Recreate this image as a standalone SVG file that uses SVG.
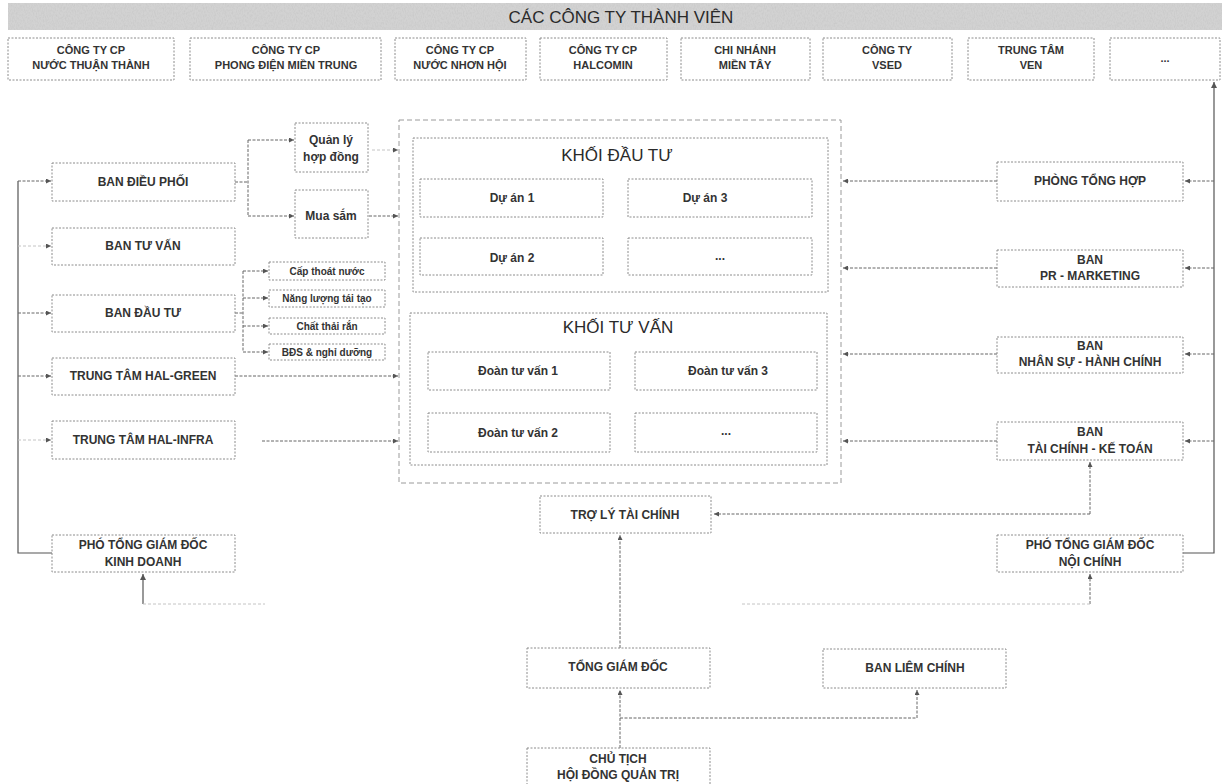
<svg xmlns="http://www.w3.org/2000/svg" width="1230" height="784" viewBox="0 0 1230 784">
<defs>
<style>
.box{fill:#fff;stroke:#8c8c8c;stroke-width:1;stroke-dasharray:2 1.5}
.frame{fill:none;stroke:#9a9a9a;stroke-width:1;stroke-dasharray:5 3}
.t{font-family:"Liberation Sans",Arial,sans-serif;font-weight:700;fill:#333;text-anchor:middle;dominant-baseline:central}
.m{font-size:11px}
.l{font-size:12px}
.s{font-size:10px}
.h{font-family:"Liberation Sans",Arial,sans-serif;font-weight:400;fill:#2a2a2a;text-anchor:middle;dominant-baseline:central;font-size:17px}
.c{fill:none;stroke:#666;stroke-width:1;stroke-dasharray:3 1.5}
.cf{fill:none;stroke:#c4c4c4;stroke-width:1;stroke-dasharray:3 2}
.cs{fill:none;stroke:#555;stroke-width:1.2}
</style>
<marker id="ah" viewBox="0 0 6 6" refX="6" refY="3" markerWidth="5" markerHeight="5" orient="auto"><path d="M0,0 L6,3 L0,6 z" fill="#555"/></marker>
<filter id="grain" x="0" y="0" width="1" height="1"><feTurbulence type="fractalNoise" baseFrequency="0.9 0.4" numOctaves="3" seed="7"/><feColorMatrix type="matrix" values="0 0 0 0 0.55 0 0 0 0 0.55 0 0 0 0 0.55 1.2 0 0 0 -0.45"/></filter>
</defs>
<rect width="1230" height="784" fill="#fff"/>

<g id="banner">
<rect x="8" y="3" width="1214" height="27" fill="#d2d2d2"/>
<rect x="8" y="3" width="1214" height="27" fill="#000" filter="url(#grain)"/>
<text class="h" x="621" y="17">CÁC CÔNG TY THÀNH VIÊN</text>
</g>

<g id="members">
<g id="m1"><rect class="box" x="8" y="38" width="166" height="42"/><text class="t m" x="91" y="50">CÔNG TY CP</text><text class="t m" x="91" y="65">NƯỚC THUẬN THÀNH</text></g>
<g id="m2"><rect class="box" x="190" y="38" width="191" height="42"/><text class="t m" x="286" y="50">CÔNG TY CP</text><text class="t m" x="286" y="65">PHONG ĐIỆN MIỀN TRUNG</text></g>
<g id="m3"><rect class="box" x="395" y="38" width="131" height="42"/><text class="t m" x="460" y="50">CÔNG TY CP</text><text class="t m" x="460" y="65">NƯỚC NHƠN HỘI</text></g>
<g id="m4"><rect class="box" x="540" y="38" width="127" height="42"/><text class="t m" x="603" y="50">CÔNG TY CP</text><text class="t m" x="603" y="65">HALCOMIN</text></g>
<g id="m5"><rect class="box" x="681" y="38" width="129" height="42"/><text class="t m" x="745" y="50">CHI NHÁNH</text><text class="t m" x="745" y="65">MIỀN TÂY</text></g>
<g id="m6"><rect class="box" x="823" y="38" width="129" height="42"/><text class="t m" x="887" y="50">CÔNG TY</text><text class="t m" x="887" y="65">VSED</text></g>
<g id="m7"><rect class="box" x="968" y="38" width="126" height="42"/><text class="t m" x="1031" y="50">TRUNG TÂM</text><text class="t m" x="1031" y="65">VEN</text></g>
<g id="m8"><rect class="box" x="1110" y="38" width="110" height="42"/><text class="t m" x="1165" y="58">...</text></g>
</g>

<g id="connectors">
<path class="cs" d="M52,553 H18 V181"/>
<path class="c" d="M18,181 H51" marker-end="url(#ah)"/>
<path class="cf" d="M18,246 H51" marker-end="url(#ah)"/>
<path class="c" d="M18,313 H51" marker-end="url(#ah)"/>
<path class="c" d="M18,376 H51" marker-end="url(#ah)"/>
<path class="cf" d="M18,440 H51" marker-end="url(#ah)"/>
<path class="c" d="M235,182 H248 M248,140 V216"/>
<path class="c" d="M248,140 H294" marker-end="url(#ah)"/>
<path class="c" d="M248,216 H294" marker-end="url(#ah)"/>
<path class="cf" d="M372,150 H398" marker-end="url(#ah)"/>
<path class="c" d="M369,216 H398" marker-end="url(#ah)"/>
<path class="c" d="M235,313 H243 M243,271 V352"/>
<path class="c" d="M243,271 H268" marker-end="url(#ah)"/>
<path class="c" d="M243,298 H268" marker-end="url(#ah)"/>
<path class="c" d="M243,326 H268" marker-end="url(#ah)"/>
<path class="c" d="M243,352 H268" marker-end="url(#ah)"/>
<path class="c" d="M235,376 H398" marker-end="url(#ah)"/>
<path class="c" d="M262,441 H398" marker-end="url(#ah)"/>
<path class="c" d="M997,181 H843" marker-end="url(#ah)"/>
<path class="c" d="M997,268 H843" marker-end="url(#ah)"/>
<path class="c" d="M997,354 H843" marker-end="url(#ah)"/>
<path class="c" d="M997,441 H843" marker-end="url(#ah)"/>
<path class="cs" d="M1183,553 H1214 V82" marker-end="url(#ah)"/>
<path class="c" d="M1214,181 H1185" marker-end="url(#ah)"/>
<path class="c" d="M1214,268 H1185" marker-end="url(#ah)"/>
<path class="c" d="M1214,354 H1185" marker-end="url(#ah)"/>
<path class="c" d="M1214,441 H1185" marker-end="url(#ah)"/>
<path class="c" d="M1090,514 V462" marker-end="url(#ah)"/>
<path class="c" d="M1090,514 H714" marker-end="url(#ah)"/>
<path class="c" d="M620,648 V535" marker-end="url(#ah)"/>
<path class="cs" d="M143,604 V574" marker-end="url(#ah)"/>
<path class="cf" d="M143,604 H265"/>
<path class="c" d="M1090,604 V574" marker-end="url(#ah)"/>
<path class="cf" d="M1090,604 H740"/>
<path class="c" d="M620,748 V690" marker-end="url(#ah)"/>
<path class="c" d="M620,718 H917 V690" marker-end="url(#ah)"/>
</g>

<g id="left">
<g id="ban-dieu-phoi"><rect class="box" x="52" y="163" width="183" height="38"/><text class="t l" x="143" y="182">BAN ĐIỀU PHỐI</text></g>
<g id="ban-tu-van"><rect class="box" x="52" y="228" width="183" height="37"/><text class="t l" x="143" y="246">BAN TƯ VẤN</text></g>
<g id="ban-dau-tu"><rect class="box" x="52" y="295" width="183" height="37"/><text class="t l" x="143" y="313">BAN ĐẦU TƯ</text></g>
<g id="hal-green"><rect class="box" x="52" y="358" width="183" height="37"/><text class="t l" x="143" y="376">TRUNG TÂM HAL-GREEN</text></g>
<g id="hal-infra"><rect class="box" x="52" y="421" width="183" height="38"/><text class="t l" x="143" y="440">TRUNG TÂM HAL-INFRA</text></g>
<g id="pho-kd"><rect class="box" x="52" y="535" width="183" height="37"/><text class="t l" x="143" y="545">PHÓ TỔNG GIÁM ĐỐC</text><text class="t l" x="143" y="562">KINH DOANH</text></g>
</g>

<g id="sub">
<g id="quan-ly"><rect class="box" x="295" y="123" width="73" height="49"/><text class="t l" x="331" y="140" font-weight="400">Quản lý</text><text class="t l" x="331" y="157">hợp đồng</text></g>
<g id="mua-sam"><rect class="box" x="295" y="190" width="73" height="48"/><text class="t l" x="331" y="216">Mua sắm</text></g>
<g id="cap-thoat-nuoc"><rect class="box" x="269" y="262" width="116" height="18"/><text class="t s" x="327" y="271">Cấp thoát nước</text></g>
<g id="nang-luong"><rect class="box" x="269" y="290" width="116" height="17"/><text class="t s" x="327" y="298">Năng lượng tái tạo</text></g>
<g id="chat-thai"><rect class="box" x="269" y="318" width="116" height="16"/><text class="t s" x="327" y="326">Chất thải rắn</text></g>
<g id="bds"><rect class="box" x="269" y="344" width="116" height="16"/><text class="t s" x="327" y="352">BĐS &amp; nghỉ dưỡng</text></g>
</g>

<g id="center">
<rect class="frame" x="399" y="120" width="442" height="363"/>
<g id="khoi-dau-tu"><rect class="box" x="413" y="138" width="415" height="154"/><text class="h" x="617" y="155">KHỐI ĐẦU TƯ</text>
<g id="du-an-1"><rect class="box" x="420" y="179" width="183" height="38"/><text class="t l" x="512" y="198">Dự án 1</text></g>
<g id="du-an-3"><rect class="box" x="628" y="179" width="184" height="38"/><text class="t l" x="705" y="198">Dự án 3</text></g>
<g id="du-an-2"><rect class="box" x="420" y="238" width="183" height="37"/><text class="t l" x="512" y="258">Dự án 2</text></g>
<g id="du-an-x"><rect class="box" x="628" y="238" width="184" height="37"/><text class="t l" x="720" y="256">...</text></g>
</g>
<g id="khoi-tu-van"><rect class="box" x="410" y="313" width="417" height="152"/><text class="h" x="618" y="327">KHỐI TƯ VẤN</text>
<g id="doan-1"><rect class="box" x="428" y="352" width="182" height="38"/><text class="t l" x="518" y="371">Đoàn tư vấn 1</text></g>
<g id="doan-3"><rect class="box" x="635" y="352" width="182" height="38"/><text class="t l" x="728" y="371">Đoàn tư vấn 3</text></g>
<g id="doan-2"><rect class="box" x="428" y="413" width="182" height="39"/><text class="t l" x="518" y="433">Đoàn tư vấn 2</text></g>
<g id="doan-x"><rect class="box" x="635" y="413" width="182" height="39"/><text class="t l" x="726" y="431">...</text></g>
</g>
</g>

<g id="right">
<g id="phong-tong-hop"><rect class="box" x="997" y="162" width="186" height="39"/><text class="t l" x="1090" y="181">PHÒNG TỔNG HỢP</text></g>
<g id="pr-marketing"><rect class="box" x="997" y="250" width="186" height="37"/><text class="t l" x="1090" y="260">BAN</text><text class="t l" x="1090" y="276">PR - MARKETING</text></g>
<g id="nhan-su"><rect class="box" x="997" y="337" width="186" height="36"/><text class="t l" x="1090" y="346">BAN</text><text class="t l" x="1090" y="362">NHÂN SỰ - HÀNH CHÍNH</text></g>
<g id="tai-chinh"><rect class="box" x="997" y="422" width="186" height="38"/><text class="t l" x="1090" y="432">BAN</text><text class="t l" x="1090" y="449">TÀI CHÍNH - KẾ TOÁN</text></g>
<g id="pho-nc"><rect class="box" x="997" y="535" width="186" height="37"/><text class="t l" x="1090" y="545">PHÓ TỔNG GIÁM ĐỐC</text><text class="t l" x="1090" y="562">NỘI CHÍNH</text></g>
</g>

<g id="bottom">
<g id="tro-ly"><rect class="box" x="540" y="496" width="171" height="37"/><text class="t l" x="625" y="515">TRỢ LÝ TÀI CHÍNH</text></g>
<g id="tgd"><rect class="box" x="527" y="648" width="183" height="40"/><text class="t l" x="618" y="667">TỔNG GIÁM ĐỐC</text></g>
<g id="liem-chinh"><rect class="box" x="823" y="649" width="183" height="39"/><text class="t l" x="915" y="668">BAN LIÊM CHÍNH</text></g>
<g id="chu-tich"><rect class="box" x="527" y="748" width="183" height="42"/><text class="t l" x="618" y="759">CHỦ TỊCH</text><text class="t l" x="618" y="775">HỘI ĐỒNG QUẢN TRỊ</text></g>
</g>
</svg>
